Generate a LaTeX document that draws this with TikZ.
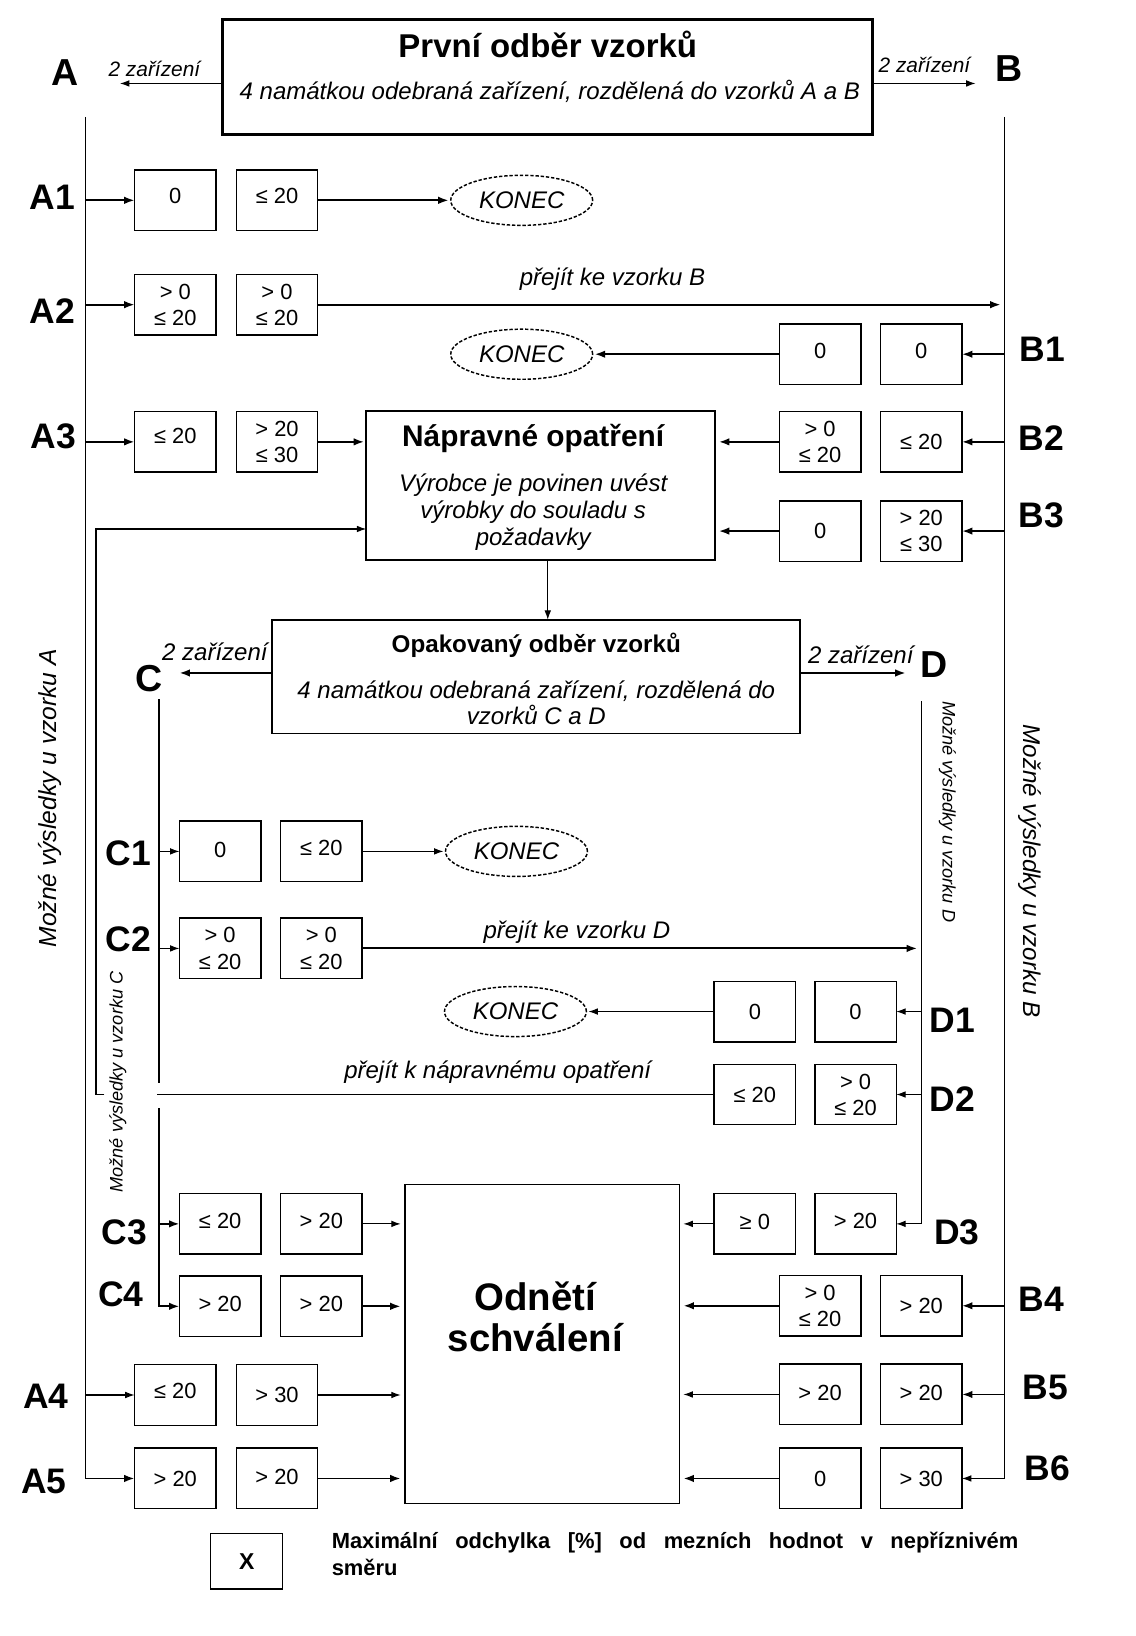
\documentclass[tikz,border=0pt]{standalone}
\usepackage{fontspec}
\setmainfont{Liberation Sans}
\usetikzlibrary{arrows.meta,shapes.geometric,calc}
\newcommand\fsz[2]{\fontsize{#1}{#2}\selectfont}
\newcommand\up[2]{\raisebox{#1pt}{#2}}
\begin{document}
\begin{tikzpicture}[x=0.5pt,y=-0.5pt,
  every node/.style={inner sep=0pt, outer sep=0pt},
  vbox/.style={draw, line width=0.7pt, minimum width=39pt, minimum height=29pt, align=center, font=\fsz{10.5}{12.5}},
  konec/.style={ellipse, draw, dash pattern=on 1.6pt off 0.9pt, line width=0.7pt, minimum width=68pt, minimum height=24pt, font=\itshape\fsz{11.5}{13}},
  bigbox/.style={draw, line width=0.9pt},
  rowlab/.style={font=\bfseries\fsz{17}{20}},
  letter/.style={font=\bfseries\fsz{18}{20}},
  note/.style={font=\itshape\fsz{11.5}{13}},
  small/.style={font=\itshape\fsz{10}{12}},
  arr/.style={-{Latex[length=5pt,width=3.6pt]}, line width=0.9pt},
  tarr/.style={-{Latex[length=4.5pt,width=3.2pt]}, line width=0.5pt},
  ln/.style={line width=0.9pt},
  tln/.style={line width=0.55pt},
]
\useasboundingbox (0,0) rectangle (1088,1568);

% ---------- top box ----------
\node[bigbox, line width=1.5pt, minimum width=311.5pt, minimum height=55pt] (top) at (524.5,74) {};
\node[font=\bfseries\fsz{15.8}{18}] (topT) at (525,43) {První odběr vzorků};
\node[note] (topS) at (527,88) {4 namátkou odebraná zařízení, rozdělená do vzorků A a B};
\coordinate (Aend) at (115,80);
\coordinate (Bend) at (935,80);
\draw[tarr] ($(top.west)+(0,6)$) -- (Aend);
\draw[tarr] ($(top.east)+(0,6)$) -- (Bend);
\node[small] (zA) at (148,66) {2 zařízení};
\node[small] (zB) at (886,62) {2 zařízení};
\node[letter] (lA) at (62,70) {A};
\node[letter] (lB) at (967,66) {B};

% ---------- main lines ----------
\coordinate (Atop) at (82,112);
\coordinate (Btop) at (963,112);

% ---------- A rows ----------
\node[vbox] (a1l) at (168,192) {\up{4.5}{0}};
\node[vbox] (a1r) at (265.5,192) {\up{4.5}{≤ 20}};
\node[vbox] (a2l) at (168,292) {> 0\\≤ 20};
\node[vbox] (a2r) at (265.5,292) {> 0\\≤ 20};
\node[vbox] (a3l) at (168,423.5) {\up{5.5}{≤ 20}};
\node[vbox] (a3r) at (265.5,423.5) {> 20\\≤ 30};
\node[vbox] (a4l) at (168,1337) {\up{3.5}{≤ 20}};
\node[vbox] (a4r) at (265.5,1337) {> 30};
\node[vbox] (a5l) at (168,1417) {> 20};
\node[vbox] (a5r) at (265.5,1417) {\up{2}{> 20}};

\node[rowlab] (A1) at (50,189) {A1};
\node[rowlab] (A2) at (50,298) {A2};
\node[rowlab] (A3) at (51,418) {A3};
\node[rowlab] (A4) at (44,1338) {A4};
\node[rowlab] (A5) at (42,1420) {A5};

% ---------- B rows ----------
\node[vbox] (b1l) at (786,339.5) {\up{3.5}{0}};
\node[vbox] (b1r) at (883,339.5) {\up{3.5}{0}};
\node[vbox] (b2l) at (786,423.5) {> 0\\≤ 20};
\node[vbox] (b2r) at (883,423.5) {≤ 20};
\node[vbox] (b3l) at (786,509) {0};
\node[vbox] (b3r) at (883,509) {> 20\\≤ 30};
\node[vbox] (b4l) at (786,1251.5) {> 0\\≤ 20};
\node[vbox] (b4r) at (883,1251.5) {> 20};
\node[vbox] (b5l) at (786,1336.5) {\up{2}{> 20}};
\node[vbox] (b5r) at (883,1336.5) {\up{2}{> 20}};
\node[vbox] (b6l) at (786,1417) {0};
\node[vbox] (b6r) at (883,1417) {> 30};

\node[rowlab] (B1) at (999,335) {B1};
\node[rowlab] (B2) at (998,420) {B2};
\node[rowlab] (B3) at (998,494) {B3};
\node[rowlab] (B4) at (998,1245) {B4};
\node[rowlab] (B5) at (1002,1330) {B5};
\node[rowlab] (B6) at (1004,1407) {B6};

% ---------- KONEC ----------
\node[konec] (k1) at (500,192) {KONEC};
\node[konec] (k2) at (500,339.5) {KONEC};
\node[konec] (k3) at (495,816) {KONEC};
\node[konec] (k4) at (494,969.5) {KONEC};

% ---------- Napravne opatreni ----------
\node[bigbox, minimum width=167pt, minimum height=71.5pt] (nap) at (518,465.5) {};
\node[font=\bfseries\fsz{14.3}{16}] (napT) at (511,420) {Nápravné opatření};
\node[align=center, font=\itshape\fsz{11.5}{12.8}] (napS) at (511,491) {Výrobce je povinen uvést\\výrobky do souladu s\\požadavky};

% ---------- Opakovany odber ----------
\node[bigbox, minimum width=253pt, minimum height=54.5pt] (opak) at (514,648.5) {};
\node[font=\bfseries\fsz{11.6}{13}] (opT) at (514,618) {Opakovaný odběr vzorků};
\node[align=center, font=\itshape\fsz{11.5}{12.6}] (opS) at (514,673.5) {4 namátkou odebraná zařízení, rozdělená do\\vzorků C a D};
\coordinate (Cend) at (172,645);
\coordinate (Dend) at (868,645);
\draw[arr] (opak.west |- Cend) -- (Cend);
\draw[arr] (opak.east |- Dend) -- (Dend);
\node[note] (zC) at (206,625) {2 zařízení};
\node[note] (zD) at (825,628) {2 zařízení};
\node[letter] (lC) at (143,650) {C};
\node[letter] (lD) at (895,637) {D};

\coordinate (nd) at ($(nap.south)+(7,0)$);
\draw[tarr] (nd) -- (nd |- opak.north);

% ---------- C rows ----------
\coordinate (Ctop) at (152,670);
\coordinate (Cg1) at (152,1038);
\coordinate (Cg2) at (152,1062);
\node[vbox] (c1l) at (211,816) {\up{1.5}{0}};
\node[vbox] (c1r) at (308,816) {\up{3}{≤ 20}};
\node[vbox] (c2l) at (211,909) {> 0\\≤ 20};
\node[vbox] (c2r) at (308,909) {> 0\\≤ 20};
\node[vbox] (c3l) at (211,1173) {\up{3}{≤ 20}};
\node[vbox] (c3r) at (308,1173) {\up{3}{> 20}};
\node[vbox] (c4l) at (211,1252) {\up{2.5}{> 20}};
\node[vbox] (c4r) at (308,1252) {\up{2.5}{> 20}};
\node[rowlab] (C1) at (123,818) {C1};
\node[rowlab] (C2) at (123,900) {C2};
\node[rowlab] (C3) at (119,1181) {C3};
\node[rowlab] (C4) at (116,1240) {C4};

% ---------- D rows ----------
\coordinate (Dtop) at (883,672);
\node[vbox] (d1l) at (723.5,969.5) {0};
\node[vbox] (d1r) at (820,969.5) {0};
\node[vbox] (d2l) at (723.5,1049) {≤ 20};
\node[vbox] (d2r) at (820,1049) {> 0\\≤ 20};
\node[vbox] (d3l) at (723.5,1173) {\up{1.5}{≥ 0}};
\node[vbox] (d3r) at (820,1173) {\up{3}{> 20}};
\node[rowlab] (D1) at (913,978) {D1};
\node[rowlab] (D2) at (913,1053) {D2};
\node[rowlab] (D3) at (917,1181) {D3};

% ---------- Odneti schvaleni ----------
\node[draw, line width=0.7pt, minimum width=131.5pt, minimum height=153pt] (od) at (519.5,1288) {};
\node[font=\bfseries\fsz{18.4}{19.5}, align=center] (odT) at (513,1262) {Odnětí\\schválení};

% ---------- vertical texts ----------
\node[rotate=90, font=\itshape\fsz{11.8}{13}] (vA) at (48,765) {Možné výsledky u vzorku A};
\node[rotate=-90, font=\itshape\fsz{11.6}{13}] (vB) at (987,835) {Možné výsledky u vzorku B};
\node[rotate=90, font=\itshape\fsz{8.7}{10}] (vC) at (113,1037) {Možné výsledky u vzorku C};
\node[rotate=-90, font=\itshape\fsz{8.7}{10}] (vD) at (908,778) {Možné výsledky u vzorku D};

% ---------- A connectors ----------
\draw[arr] (Atop) -- (Atop |- a5l.west) -- (a5l.west);
\draw[arr] (Atop |- a1l.west) -- (a1l.west);
\draw[arr] (Atop |- a2l.west) -- (a2l.west);
\draw[arr] (Atop |- a3l.west) -- (a3l.west);
\draw[tarr] (Atop |- a4l.west) -- (a4l.west);
\draw[arr, shorten >=1pt] (a1r.east) -- (k1.west);
\draw[arr, shorten >=2pt] (a2r.east) -- (a2r.east -| Btop);
\node[note] (pB) at (587,268) {přejít ke vzorku B};
\draw[arr, shorten >=1pt] (a3r.east) -- (a3r.east -| nap.west);
\draw[tarr, shorten >=2pt] (a4r.east) -- (a4r.east -| od.west);
\draw[arr, shorten >=2pt] (a5r.east) -- (a5r.east -| od.west);

% ---------- B connectors ----------
\draw[tarr] (Btop) -- (Btop |- b6r.east) -- (b6r.east);
\draw[arr] (Btop |- b1r.east) -- (b1r.east);
\draw[arr] (Btop |- b2r.east) -- (b2r.east);
\draw[arr] (Btop |- b3r.east) -- (b3r.east);
\draw[arr] (Btop |- b4r.east) -- (b4r.east);
\draw[arr] (Btop |- b5r.east) -- (b5r.east);
\draw[arr, shorten >=1pt] (b1l.west) -- (k2.east);
\draw[arr, shorten >=2pt] (b2l.west) -- (b2l.west -| nap.east);
\draw[arr, shorten >=2pt] (b3l.west) -- (b3l.west -| nap.east);
\draw[arr, shorten >=2pt] (b4l.west) -- (b4l.west -| od.east);
\draw[tarr, shorten >=2pt] (b5l.west) -- (b5l.west -| od.east);
\draw[arr, shorten >=2pt] (b6l.west) -- (b6l.west -| od.east);

% ---------- C connectors ----------
\draw[ln] (Ctop) -- (Cg1);
\draw[arr] (Cg2) -- (Ctop |- c4l.west) -- (c4l.west);
\draw[tarr] (Ctop |- c1l.west) -- (c1l.west);
\draw[tarr] (Ctop |- c2l.west) -- (c2l.west);
\draw[arr] (Ctop |- c3l.west) -- (c3l.west);
\draw[tarr, shorten >=1pt] (c1r.east) -- (k3.west);
\draw[arr, shorten >=2pt] (c2r.east) -- (c2r.east -| Dtop);
\node[note] (pD) at (553,893) {přejít ke vzorku D};
\draw[tarr, shorten >=2pt] (c3r.east) -- (c3r.east -| od.west);
\draw[arr, shorten >=2pt] (c4r.east) -- (c4r.east -| od.west);

% ---------- D connectors ----------
\draw[tarr] (Dtop) -- (Dtop |- d3r.east) -- (d3r.east);
\draw[tarr] (Dtop |- d1r.east) -- (d1r.east);
\draw[tarr] (Dtop |- d2r.east) -- (d2r.east);
\draw[tarr, shorten >=1pt] (d1l.west) -- (k4.east);
\draw[tarr, shorten >=2pt] (d3l.west) -- (d3l.west -| od.east);

% ---------- feedback to Napravne opatreni ----------
\coordinate (fb) at (92,507);
\coordinate (gR) at (150,1049);
\coordinate (gL) at (100,1049);
\draw[tln] (d2l.west) -- (gR);
\draw[tarr] (gL) -- (gL -| fb) -- (fb) -- (fb -| nap.west);
\node[note] (pN) at (477,1028) {přejít k nápravnému opatření};

% ---------- legend ----------
\node[draw, line width=0.7pt, minimum width=34.5pt, minimum height=26.5pt, font=\bfseries\fsz{11}{12}] (lx) at (236.5,1496.5) {X};
\node[anchor=north west, text width=329pt, align=justify, font=\bfseries\fsz{10.5}{13}] (lt) at (318,1468) {Maximální odchylka [\%] od mezních hodnot v nepříznivém\linebreak směru};
\end{tikzpicture}
\end{document}
